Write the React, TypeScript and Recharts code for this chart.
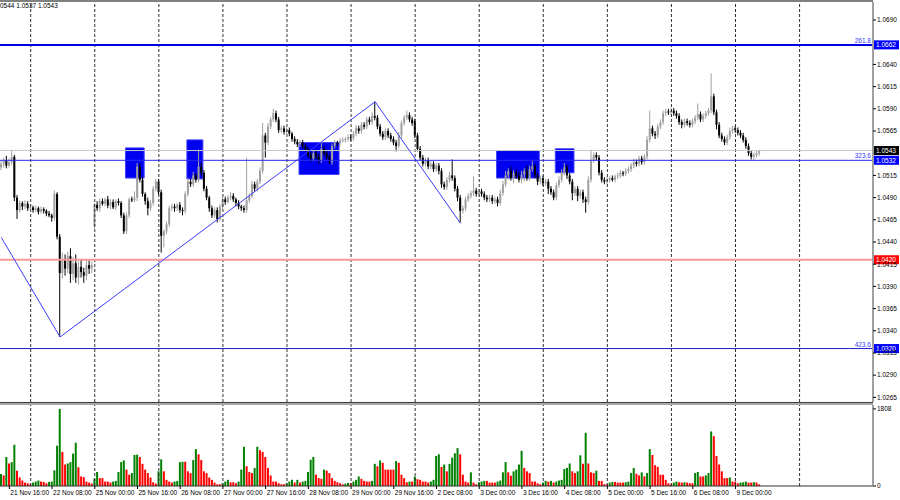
import React from 'react';
import { ComposedChart, Bar, Line, XAxis, YAxis, ReferenceLine, ReferenceArea, Cell } from 'recharts';

// EURUSD H1, 21 Nov 13:00 .. 9 Dec 09:00. Prices are pips above 1.0000 (543 -> 1.0543)
const closes = [
  528, 532, 526, 530, 536, 490, 476, 484, 480, 483, 478,
  479, 476, 478, 474, 477, 475, 472, 470, 467, 494, 446, 405, 420, 410, 424, 404, 416, 400, 412, 406, 402, 414, 410, 414,
  482, 478, 486, 483, 488, 481, 485, 479, 486, 484, 470, 452, 470, 488, 487, 490, 525, 510, 494, 486, 478, 484, 500, 508,
  496, 447, 452, 460, 478, 480, 478, 482, 476, 475, 494, 508, 505, 515, 510, 525, 518, 500, 490, 478, 470, 476, 466, 480,
  488, 485, 490, 492, 488, 484, 480, 478, 476, 487, 492, 505, 500, 508, 520, 560, 552, 570, 578, 585, 578, 566, 568, 564,
  566, 562, 556, 553, 550, 552, 548, 545, 538, 534, 540, 536, 532, 545, 540, 536, 530, 548, 552, 551, 554, 555, 556, 558,
  557, 562, 568, 565, 572, 570, 578, 575, 582, 580, 570, 562, 558, 565, 560, 556, 552, 548, 560, 574, 580, 583, 578, 574,
  560, 545, 535, 528, 532, 525, 528, 522, 526, 520, 505, 502, 510, 515, 512, 500, 490, 475, 478, 488, 492, 495, 498, 494,
  497, 494, 490, 488, 490, 486, 488, 484, 495, 505, 515, 520, 512, 518, 514, 510, 516, 520, 512, 522, 525, 515, 508, 512,
  506, 508, 500, 496, 490, 504, 510, 518, 524, 515, 508, 495, 500, 492, 496, 488, 485, 510, 532, 538, 535, 518, 510, 508,
  510, 512, 510, 514, 515, 518, 517, 520, 522, 526, 530, 528, 534, 530, 536, 555, 568, 562, 560, 570, 575, 585, 587, 586,
  588, 585, 582, 575, 572, 576, 574, 572, 576, 580, 584, 578, 582, 585, 588, 604, 586, 572, 560, 556, 552, 558, 565, 568,
  566, 563, 560, 555, 548, 540, 536, 538, 540, 543,
];

const upWicks = [
  4, 3, 5, 4, 8, 2, 3, 3, 2, 4, 3,
  3, 2, 3, 2, 3, 2, 2, 3, 2, 4, 2, 3, 8, 6, 5, 9, 7, 10, 6, 8, 5, 6, 5, 4,
  2, 4, 3, 3, 2, 4, 3, 3, 2, 3, 2, 3, 3, 2, 3, 7, 4, 3, 3, 2, 4, 3, 3, 3,
  3, 3, 2, 3, 3, 3, 3, 2, 3, 3, 3, 4, 3, 4, 3, 19, 4, 3, 3, 2, 3, 3, 3, 3,
  3, 3, 3, 4, 3, 2, 3, 2, 3, 48, 3, 4, 3, 3, 4, 14, 3, 4, 3, 5, 3, 3, 3, 3,
  3, 3, 2, 3, 3, 3, 3, 3, 2, 3, 3, 3, 3, 7, 3, 3, 3, 3, 3, 2, 3, 3, 2, 3,
  3, 3, 4, 3, 3, 3, 3, 3, 4, 16, 3, 3, 3, 3, 3, 3, 3, 3, 4, 3, 3, 5, 3, 3,
  3, 3, 3, 3, 3, 3, 3, 3, 3, 3, 3, 3, 3, 4, 18, 3, 3, 3, 3, 3, 3, 3, 16, 3,
  3, 3, 3, 3, 3, 3, 3, 3, 4, 4, 5, 3, 5, 3, 4, 5, 4, 3, 6, 4, 7, 3, 3, 3,
  3, 3, 3, 3, 3, 3, 4, 4, 5, 3, 3, 3, 3, 3, 3, 3, 3, 4, 12, 3, 3, 3, 3, 3,
  3, 2, 3, 2, 3, 3, 2, 3, 3, 3, 4, 3, 3, 3, 3, 4, 20, 3, 3, 3, 3, 3, 3, 3,
  3, 3, 3, 3, 3, 3, 3, 3, 3, 3, 12, 3, 3, 3, 3, 26, 3, 3, 3, 3, 3, 3, 4, 3,
  3, 3, 3, 3, 3, 3, 3, 3, 3, 1,
];

const downWicks = [
  3, 4, 3, 2, 3, 4, 10, 3, 4, 3, 3,
  2, 3, 2, 3, 2, 3, 3, 2, 4, 3, 3, 72, 6, 8, 5, 10, 7, 6, 8, 6, 8, 5, 6, 5,
  3, 3, 4, 2, 3, 3, 4, 2, 3, 3, 3, 3, 3, 3, 2, 2, 4, 3, 3, 4, 8, 3, 3, 3,
  3, 19, 13, 3, 3, 3, 4, 3, 3, 5, 3, 3, 3, 3, 3, 3, 3, 3, 3, 4, 3, 3, 4, 3,
  3, 3, 2, 3, 3, 4, 3, 3, 3, 3, 3, 3, 3, 3, 3, 3, 17, 3, 3, 3, 3, 3, 3, 3,
  3, 3, 3, 3, 3, 3, 3, 3, 3, 4, 3, 3, 4, 3, 3, 3, 2, 3, 3, 3, 3, 2, 3, 3,
  3, 3, 3, 3, 3, 3, 3, 3, 3, 3, 3, 3, 3, 3, 3, 3, 3, 6, 3, 3, 3, 3, 3, 3,
  3, 3, 3, 3, 3, 3, 3, 3, 3, 4, 4, 3, 3, 3, 3, 3, 4, 13, 3, 3, 3, 3, 3, 3,
  3, 3, 3, 3, 3, 3, 3, 4, 3, 3, 3, 5, 3, 6, 3, 3, 4, 8, 3, 3, 3, 3, 4, 3,
  3, 3, 6, 3, 3, 3, 3, 3, 3, 4, 3, 8, 3, 6, 3, 4, 12, 3, 3, 3, 3, 3, 3, 3,
  3, 3, 2, 3, 3, 3, 3, 3, 3, 3, 3, 3, 3, 3, 3, 3, 3, 3, 4, 3, 3, 3, 3, 3,
  3, 3, 3, 3, 4, 3, 3, 3, 3, 3, 3, 3, 3, 3, 3, 3, 3, 5, 3, 3, 3, 3, 3, 3,
  3, 3, 3, 3, 3, 3, 3, 4, 3, 3,
];

const volumes = [
  280, 248, 680, 528, 560, 968, 360, 200, 128, 80, 64,
  40, 80, 104, 128, 104, 96, 64, 96, 104, 368, 944, 1808, 800, 504, 528, 560, 760, 1016, 440, 224, 208, 104, 80, 56,
  168, 328, 184, 184, 104, 104, 80, 104, 120, 328, 560, 600, 384, 264, 304, 728, 736, 680, 520, 384, 304, 200, 88, 56,
  344, 624, 344, 144, 104, 80, 104, 120, 560, 568, 568, 344, 304, 608, 864, 744, 608, 344, 304, 200, 144, 80, 40, 40,
  64, 104, 144, 88, 88, 64, 104, 384, 920, 464, 328, 304, 424, 920, 840, 800, 680, 424, 248, 104, 104, 64, 40, 40,
  64, 104, 144, 80, 144, 80, 104, 120, 328, 616, 680, 264, 184, 168, 384, 360, 304, 184, 120, 88, 64, 40, 56, 72,
  64, 104, 144, 224, 168, 120, 104, 104, 120, 520, 464, 600, 544, 384, 384, 384, 384, 584, 544, 264, 184, 88, 104, 104,
  224, 160, 144, 104, 104, 80, 104, 144, 704, 744, 448, 504, 344, 520, 664, 768, 888, 744, 264, 104, 80, 320, 80, 40,
  88, 104, 120, 120, 80, 80, 80, 104, 128, 320, 560, 320, 240, 344, 384, 504, 824, 424, 344, 304, 104, 104, 64, 40,
  80, 120, 104, 120, 80, 104, 128, 144, 400, 424, 528, 344, 304, 344, 720, 520, 1248, 528, 320, 304, 360, 120, 120, 40,
  40, 80, 96, 96, 80, 80, 80, 88, 104, 304, 424, 288, 248, 320, 224, 304, 864, 728, 488, 448, 264, 264, 144, 64,
  40, 80, 104, 88, 80, 88, 80, 64, 64, 304, 328, 224, 224, 248, 304, 1280, 1168, 704, 504, 344, 184, 184, 200, 104,
  104, 64, 80, 88, 104, 80, 80, 88, 80, 40,
];

const firstOpen = 524;
// Monday opens that gap away from Friday's close
const gapOpens: Record<number, number> = { 35: 458, 155: 576 };
const futureSlots = 42;

const zigzag = [
  { bar: 0, price: 445 },
  { bar: 22, price: 333 },
  { bar: 140, price: 598 },
  { bar: 172, price: 461 },
];

const boxes = [
  { from: 47, to: 53, top: 546, bottom: 512 },
  { from: 70, to: 75, top: 555, bottom: 511 },
  { from: 112, to: 126, top: 552, bottom: 516 },
  { from: 186, to: 201, top: 543, bottom: 512 },
  { from: 208, to: 214, top: 545, bottom: 518 },
];

const levels = [
  { price: 662, color: '#0000e0', width: 2, tagBg: '#0000ff', fib: '261.8' },
  { price: 543, color: '#c8c8c8', width: 1, tagBg: '#000000', fib: '' },
  { price: 532, color: '#2a2aee', width: 1, tagBg: '#0000ff', fib: '323.6' },
  { price: 420, color: '#f49a9a', width: 2, tagBg: '#ff0000', fib: '' },
  { price: 320, color: '#2020c8', width: 1, tagBg: '#0000ff', fib: '423.6' },
];

const dayStarts = [11, 35, 59, 83, 107, 131, 155, 179, 203, 227, 251, 275, 299];
const priceTicks = [690, 640, 615, 590, 565, 515, 490, 465, 440, 415, 390, 365, 340, 315, 290, 265];
const volumeTicks = [0, 1808];
const labelBars = [3, 19, 35, 51, 67, 83, 99, 115, 131, 147, 163, 179, 195, 211, 227, 243, 259, 275];
const timeLabels = [
  '21 Nov 16:00', '22 Nov 08:00', '25 Nov 00:00', '25 Nov 16:00', '26 Nov 08:00', '27 Nov 00:00',
  '27 Nov 16:00', '28 Nov 08:00', '29 Nov 00:00', '29 Nov 16:00', '2 Dec 08:00', '3 Dec 00:00',
  '3 Dec 16:00', '4 Dec 08:00', '5 Dec 00:00', '5 Dec 16:00', '6 Dec 08:00', '9 Dec 00:00',
];

const FONT = '"Liberation Sans", Arial, sans-serif';
const fmtPrice = (p: number) => (1 + p / 10000).toFixed(4);

const rows: any[] = [];
for (let i = 0; i < closes.length + futureSlots; i++) {
  if (i >= closes.length) {
    rows.push({ i });
    continue;
  }
  const close = closes[i];
  const open = gapOpens[i] ?? (i === 0 ? firstOpen : closes[i - 1]);
  const high = Math.max(open, close) + upWicks[i];
  const low = Math.min(open, close) - downWicks[i];
  const vol = volumes[i];
  const volUp = i === 0 || vol > volumes[i - 1];
  rows.push({ i, open, close, high, low, vol, volColor: volUp ? '#008000' : '#ff0000' });
}
zigzag.forEach((z) => {
  rows[z.bar].zig = z.price;
});

function Candle(props: any) {
  const { x, y, width, height, payload } = props;
  if (!payload || payload.close == null) return null;
  const { open, close, high, low } = payload;
  const top = Math.min(y, y + height);
  const h = Math.abs(height);
  const span = high - low || 1;
  const toY = (v: number) => top + ((high - v) / span) * h;
  const bull = close >= open;
  const color = bull ? '#a0a0a0' : '#000000';
  const bodyTop = toY(Math.max(open, close));
  const bodyBottom = toY(Math.min(open, close));
  const cx = x + width / 2;
  return (
    <g>
      <line x1={cx} x2={cx} y1={top} y2={top + h} stroke={color} strokeWidth={1} />
      <rect x={x} y={bodyTop} width={width} height={Math.max(1, bodyBottom - bodyTop)} fill={color} />
    </g>
  );
}

function LevelTag(props: any, level: any) {
  const vb = props.viewBox;
  if (!vb) return null;
  const right = vb.x + vb.width;
  return (
    <g>
      {level.fib && (
        <text x={right - 2} y={vb.y - 2} textAnchor="end" fontSize={6.5} fontFamily={FONT} fill="#3a3aff">
          {level.fib}
        </text>
      )}
      <rect x={right + 1} y={vb.y - 4.5} width={25} height={9} fill={level.tagBg} />
      <text x={right + 3} y={vb.y + 2.3} fontSize={6.5} fontFamily={FONT} fill="#ffffff">
        {fmtPrice(level.price)}
      </text>
    </g>
  );
}

function TimeTick(props: any) {
  const { x, y, payload } = props;
  const k = labelBars.indexOf(payload.value);
  if (k < 0) return null;
  return (
    <g>
      <line x1={x} x2={x} y1={y} y2={y + 3} stroke="#000" />
      <text x={x + 1} y={y + 8.5} fontSize={6.5} fontFamily={FONT} fill="#000">
        {timeLabels[k]}
      </text>
    </g>
  );
}

export default function App() {
  return (
    <div style={{ position: 'absolute', left: 0, top: 0, width: 900, height: 500, background: '#fff', overflow: 'hidden' }}>
      <div style={{ position: 'absolute', left: 0, top: 0, width: 873, height: 2, background: '#808080' }} />
      <div style={{ position: 'absolute', left: 0, top: 402, width: 873, height: 3, background: '#a8a8a8', borderTop: '1px solid #404040', boxSizing: 'border-box' }} />
      <div style={{ position: 'absolute', left: 0, top: 0 }}>
        <ComposedChart width={900} height={402} data={rows} margin={{ top: 2, right: 0, bottom: 0, left: 0 }}>
          <XAxis dataKey="i" type="category" hide />
          <YAxis
            orientation="right"
            width={27}
            type="number"
            domain={[259.8, 710.3]}
            allowDataOverflow
            ticks={priceTicks}
            interval={0}
            tickFormatter={fmtPrice}
            tickSize={3}
            tickMargin={1}
            tick={{ fontSize: 6.5, fontFamily: FONT, fill: '#000' }}
            tickLine={{ stroke: '#000' }}
            axisLine={{ stroke: '#a0a0a0', strokeWidth: 2 }}
          />
          {boxes.map((b, k) => (
            <ReferenceArea key={`box-${k}`} x1={b.from} x2={b.to} y1={b.bottom} y2={b.top} fill="#0000f0" fillOpacity={1} stroke="#4040ff" strokeWidth={1} />
          ))}
          {dayStarts.map((d) => (
            <ReferenceLine key={`day-${d}`} x={d} stroke="#303030" strokeDasharray="3 2" />
          ))}
          {levels.map((lv) => (
            <ReferenceLine
              key={`lv-${lv.price}`}
              y={lv.price}
              stroke={lv.color}
              strokeWidth={lv.width}
              label={{ content: (p: any) => LevelTag(p, lv) }}
            />
          ))}
          <Bar dataKey={(d: any) => (d.close == null ? null : [d.low, d.high])} barSize={2} shape={Candle} isAnimationActive={false} />
          <Line dataKey="zig" stroke="#3c3cff" strokeWidth={1} dot={false} connectNulls isAnimationActive={false} />
        </ComposedChart>
      </div>
      <div style={{ position: 'absolute', left: 0, top: 405 }}>
        <ComposedChart width={900} height={95} data={rows} margin={{ top: 0, right: 0, bottom: 0, left: 0 }}>
          <XAxis
            dataKey="i"
            type="category"
            height={14}
            ticks={labelBars}
            interval={0}
            tickSize={0}
            tickMargin={0}
            tick={TimeTick}
            axisLine={{ stroke: '#303030' }}
          />
          <YAxis
            orientation="right"
            width={27}
            type="number"
            domain={[0, 1900]}
            ticks={volumeTicks}
            interval={0}
            tickSize={3}
            tickMargin={1}
            tick={{ fontSize: 6.5, fontFamily: FONT, fill: '#000' }}
            tickLine={{ stroke: '#000' }}
            axisLine={{ stroke: '#a0a0a0', strokeWidth: 2 }}
          />
          {dayStarts.map((d) => (
            <ReferenceLine key={`vday-${d}`} x={d} stroke="#303030" strokeDasharray="3 2" />
          ))}
          <Bar dataKey="vol" barSize={2} isAnimationActive={false}>
            {rows.map((r, k) => (
              <Cell key={k} fill={r.volColor || '#ff0000'} />
            ))}
          </Bar>
        </ComposedChart>
      </div>
      <div style={{ position: 'absolute', left: 0, top: 2, fontFamily: FONT, fontSize: 6.5, color: '#000', whiteSpace: 'nowrap' }}>
        0544 1.0537 1.0543
      </div>
    </div>
  );
}
